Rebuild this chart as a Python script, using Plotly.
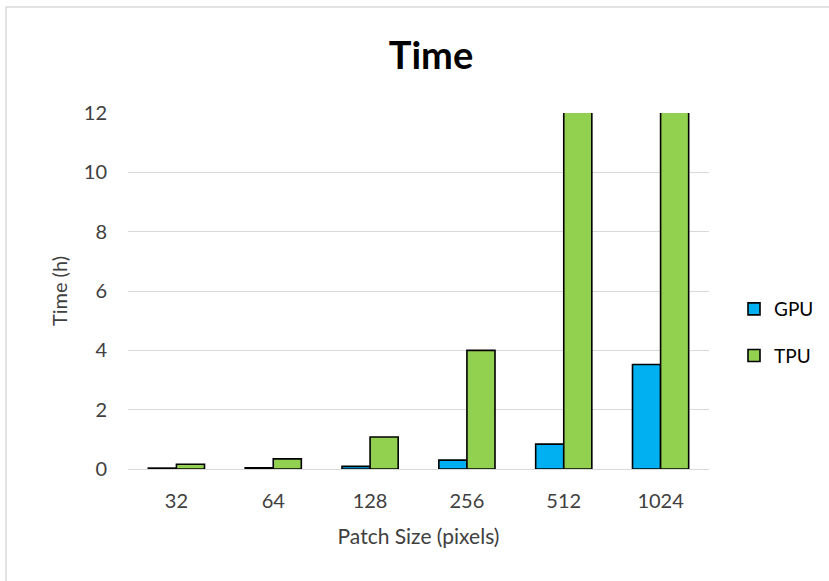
import plotly.graph_objects as go

# Patch sizes and training time (hours) per accelerator
patch_sizes = ["32", "64", "128", "256", "512", "1024"]
gpu_hours = [0.03, 0.04, 0.09, 0.3, 0.84, 3.52]
tpu_hours = [0.16, 0.34, 1.08, 4.0, 16.0, 60.0]

W, H = 829, 581
L, R, T, B = 128, 120, 113, 112

FONT = "Lato"
TEXT = "#404040"

fig = go.Figure()
fig.add_trace(go.Bar(
    x=patch_sizes, y=gpu_hours, name="GPU", legendgroup="gpu",
    marker=dict(color="#00B0F0", line=dict(color="black", width=1.6)),
))
fig.add_trace(go.Bar(
    x=patch_sizes, y=tpu_hours, name="TPU", legendgroup="tpu",
    marker=dict(color="#92D050", line=dict(color="black", width=1.6)),
))

fig.update_layout(
    width=W, height=H,
    margin=dict(l=L, r=R, t=T, b=B, autoexpand=False),
    paper_bgcolor="white", plot_bgcolor="white",
    barmode="group", bargap=0.42, bargroupgap=0,
    font=dict(family=FONT, size=20, color=TEXT),
    title=dict(text="<b>Time</b>", x=431 / W, xanchor="center",
               y=1 - 56 / H, yanchor="middle",
               font=dict(family=FONT, size=38, color="black")),
    showlegend=True,
    legend=dict(xref="container", yref="container",
                x=734 / W, y=1 - 290 / H,
                xanchor="left", yanchor="top",
                tracegroupgap=19, font=dict(size=19, color="black"),
                bgcolor="rgba(0,0,0,0)", itemwidth=30),
    xaxis=dict(
        showgrid=False, showline=True, linecolor="#D9D9D9", linewidth=1,
        ticks="", ticklabelstandoff=14,
        title=dict(text="Patch Size (pixels)", standoff=18,
                   font=dict(size=21, color=TEXT)),
    ),
    yaxis=dict(
        range=[0, 12], dtick=2, showgrid=True, gridcolor="#D9D9D9",
        gridwidth=1, zeroline=False, showline=False, ticks="",
        ticklabelstandoff=20,
        title=dict(text="Time (h)", standoff=10,
                   font=dict(size=20, color=TEXT)),
    ),
)

# Light frame around the chart area
fig.add_shape(type="rect", xref="paper", yref="paper",
              x0=(6 - L) / (W - L - R), x1=(W + 10 - L) / (W - L - R),
              y0=-(H + 10 - T - (H - T - B)) / (H - T - B),
              y1=1 + (T - 7) / (H - T - B),
              line=dict(color="#D9D9D9", width=1.5), layer="below")

fig.write_html("out.html")
